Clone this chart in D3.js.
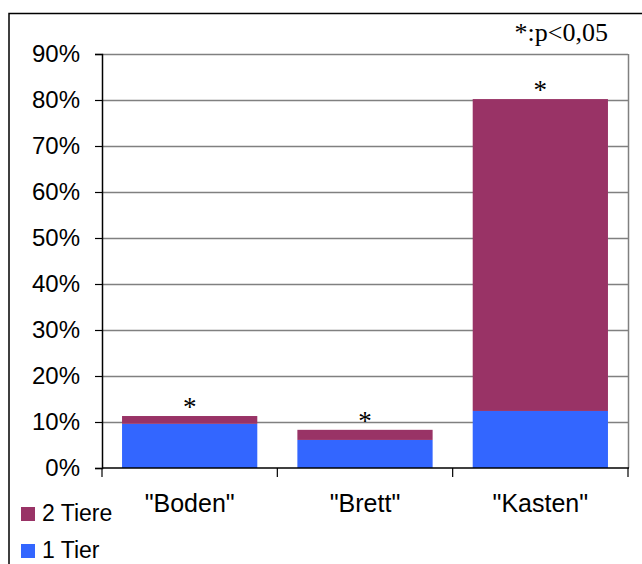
<!DOCTYPE html>
<html>
<head>
<meta charset="utf-8">
<script src="https://cdn.jsdelivr.net/npm/d3@7"></script>
<style>
  body { margin: 0; background: #fff; }
  svg { display: block; }
</style>
</head>
<body>
<svg class="chart" width="642" height="564"></svg>
<script>
// data (percent)
var categories = ['"Boden"', '"Brett"', '"Kasten"'];
var oneTier = [9.6, 6.1, 12.4];
var twoTiere = [1.7, 2.2, 67.8];
var significant = [true, true, true];
var yTicks = [0, 10, 20, 30, 40, 50, 60, 70, 80, 90];
var seriesNames = ['1 Tier', '2 Tiere'];
var seriesColors = ['#3366ff', '#993366'];

var svg = d3.select('svg.chart');
var sans = '"Liberation Sans", Arial, sans-serif';
var serif = '"Liberation Serif", "Times New Roman", serif';

// plot area
var plot = {l: 102, r: 628, t: 54, b: 468};

var xScale = d3.scaleBand()
  .domain(categories)
  .range([plot.l, plot.r])
  .paddingInner(0.2286)
  .paddingOuter(0.1143);

var yScale = d3.scaleLinear().domain([0, 90]).range([plot.b, plot.t]);

// outer frame (top + left edges visible)
svg.append('path')
  .attr('d', 'M9,564 V13.5 H642')
  .attr('fill', 'none')
  .attr('stroke', '#000')
  .attr('stroke-width', 1.5);

// gridlines
svg.append('g')
  .selectAll('line')
  .data(yTicks.filter(function(d) { return d > 0; }))
  .enter()
  .append('line')
  .attr('x1', plot.l)
  .attr('x2', plot.r)
  .attr('y1', function(d) { return Math.round(yScale(d)) + 0.5; })
  .attr('y2', function(d) { return Math.round(yScale(d)) + 0.5; })
  .attr('stroke', '#808080')
  .attr('stroke-width', 1.5);

// right border of plot area
svg.append('line')
  .attr('x1', plot.r + 0.5).attr('x2', plot.r + 0.5)
  .attr('y1', plot.t).attr('y2', plot.b)
  .attr('stroke', '#808080')
  .attr('stroke-width', 1.5);

// stacked data
var rows = categories.map(function(c, i) {
  return {cat: c, one: oneTier[i], two: twoTiere[i], sig: significant[i]};
});
var stack = d3.stack().keys(['one', 'two']);
var layers = stack(rows);

svg.append('g')
  .selectAll('g')
  .data(layers)
  .enter()
  .append('g')
  .attr('fill', function(d, i) { return seriesColors[i]; })
  .selectAll('rect')
  .data(function(d) { return d; })
  .enter()
  .append('rect')
  .attr('x', function(d) { return xScale(d.data.cat); })
  .attr('width', xScale.bandwidth())
  .attr('y', function(d) { return yScale(d[1]); })
  .attr('height', function(d) { return yScale(d[0]) - yScale(d[1]); });

// y axis
var yAxis = svg.append('g')
  .attr('transform', 'translate(' + plot.l + ',0)')
  .call(d3.axisLeft(yScale).tickValues(yTicks).tickSize(7).tickPadding(15)
    .tickFormat(function(d) { return d + '%'; }));
yAxis.select('.domain').attr('stroke', '#000').attr('stroke-width', 1.5);
yAxis.selectAll('.tick line').attr('stroke', '#000').attr('stroke-width', 1.2);
yAxis.selectAll('text')
  .attr('font-family', sans)
  .attr('font-size', 24)
  .attr('fill', '#000');

// x axis
var xAxisG = svg.append('g')
  .attr('transform', 'translate(0,' + plot.b + ')');
xAxisG.append('line')
  .attr('x1', plot.l).attr('x2', plot.r + 1)
  .attr('stroke', '#000').attr('stroke-width', 1.5);
var boundaries = categories.map(function(c) { return xScale(c) - xScale.step() * xScale.paddingInner() / 2; })
  .concat([plot.r]);
xAxisG.selectAll('line.tick')
  .data(boundaries)
  .enter()
  .append('line')
  .attr('class', 'tick')
  .attr('x1', function(d) { return d; })
  .attr('x2', function(d) { return d; })
  .attr('y1', 0).attr('y2', 9)
  .attr('stroke', '#000').attr('stroke-width', 1.2);
xAxisG.selectAll('text')
  .data(categories)
  .enter()
  .append('text')
  .attr('x', function(d) { return xScale(d) + xScale.bandwidth() / 2; })
  .attr('y', 44)
  .attr('text-anchor', 'middle')
  .attr('font-family', sans)
  .attr('font-size', 25)
  .text(function(d) { return d; });

// significance stars
svg.append('g')
  .selectAll('text')
  .data(rows.filter(function(d) { return d.sig; }))
  .enter()
  .append('text')
  .attr('x', function(d) { return xScale(d.cat) + xScale.bandwidth() / 2; })
  .attr('y', function(d) { return yScale(d.one + d.two); })
  .attr('text-anchor', 'middle')
  .attr('font-family', serif)
  .attr('font-size', 27)
  .text('*');

svg.append('text')
  .attr('x', 608)
  .attr('y', 41)
  .attr('text-anchor', 'end')
  .attr('font-family', serif)
  .attr('font-size', 26)
  .text('*:p<0,05');

// legend (2 Tiere on top)
var legendItems = [1, 0];
var legend = svg.append('g')
  .selectAll('g')
  .data(legendItems)
  .enter()
  .append('g')
  .attr('transform', function(d, i) { return 'translate(21,' + (507 + i * 37) + ')'; });
legend.append('rect')
  .attr('width', 14).attr('height', 14)
  .attr('fill', function(d) { return seriesColors[d]; });
legend.append('text')
  .attr('x', 21)
  .attr('y', 14)
  .attr('font-family', sans)
  .attr('font-size', 23)
  .text(function(d) { return seriesNames[d]; });
</script>
</body>
</html>
